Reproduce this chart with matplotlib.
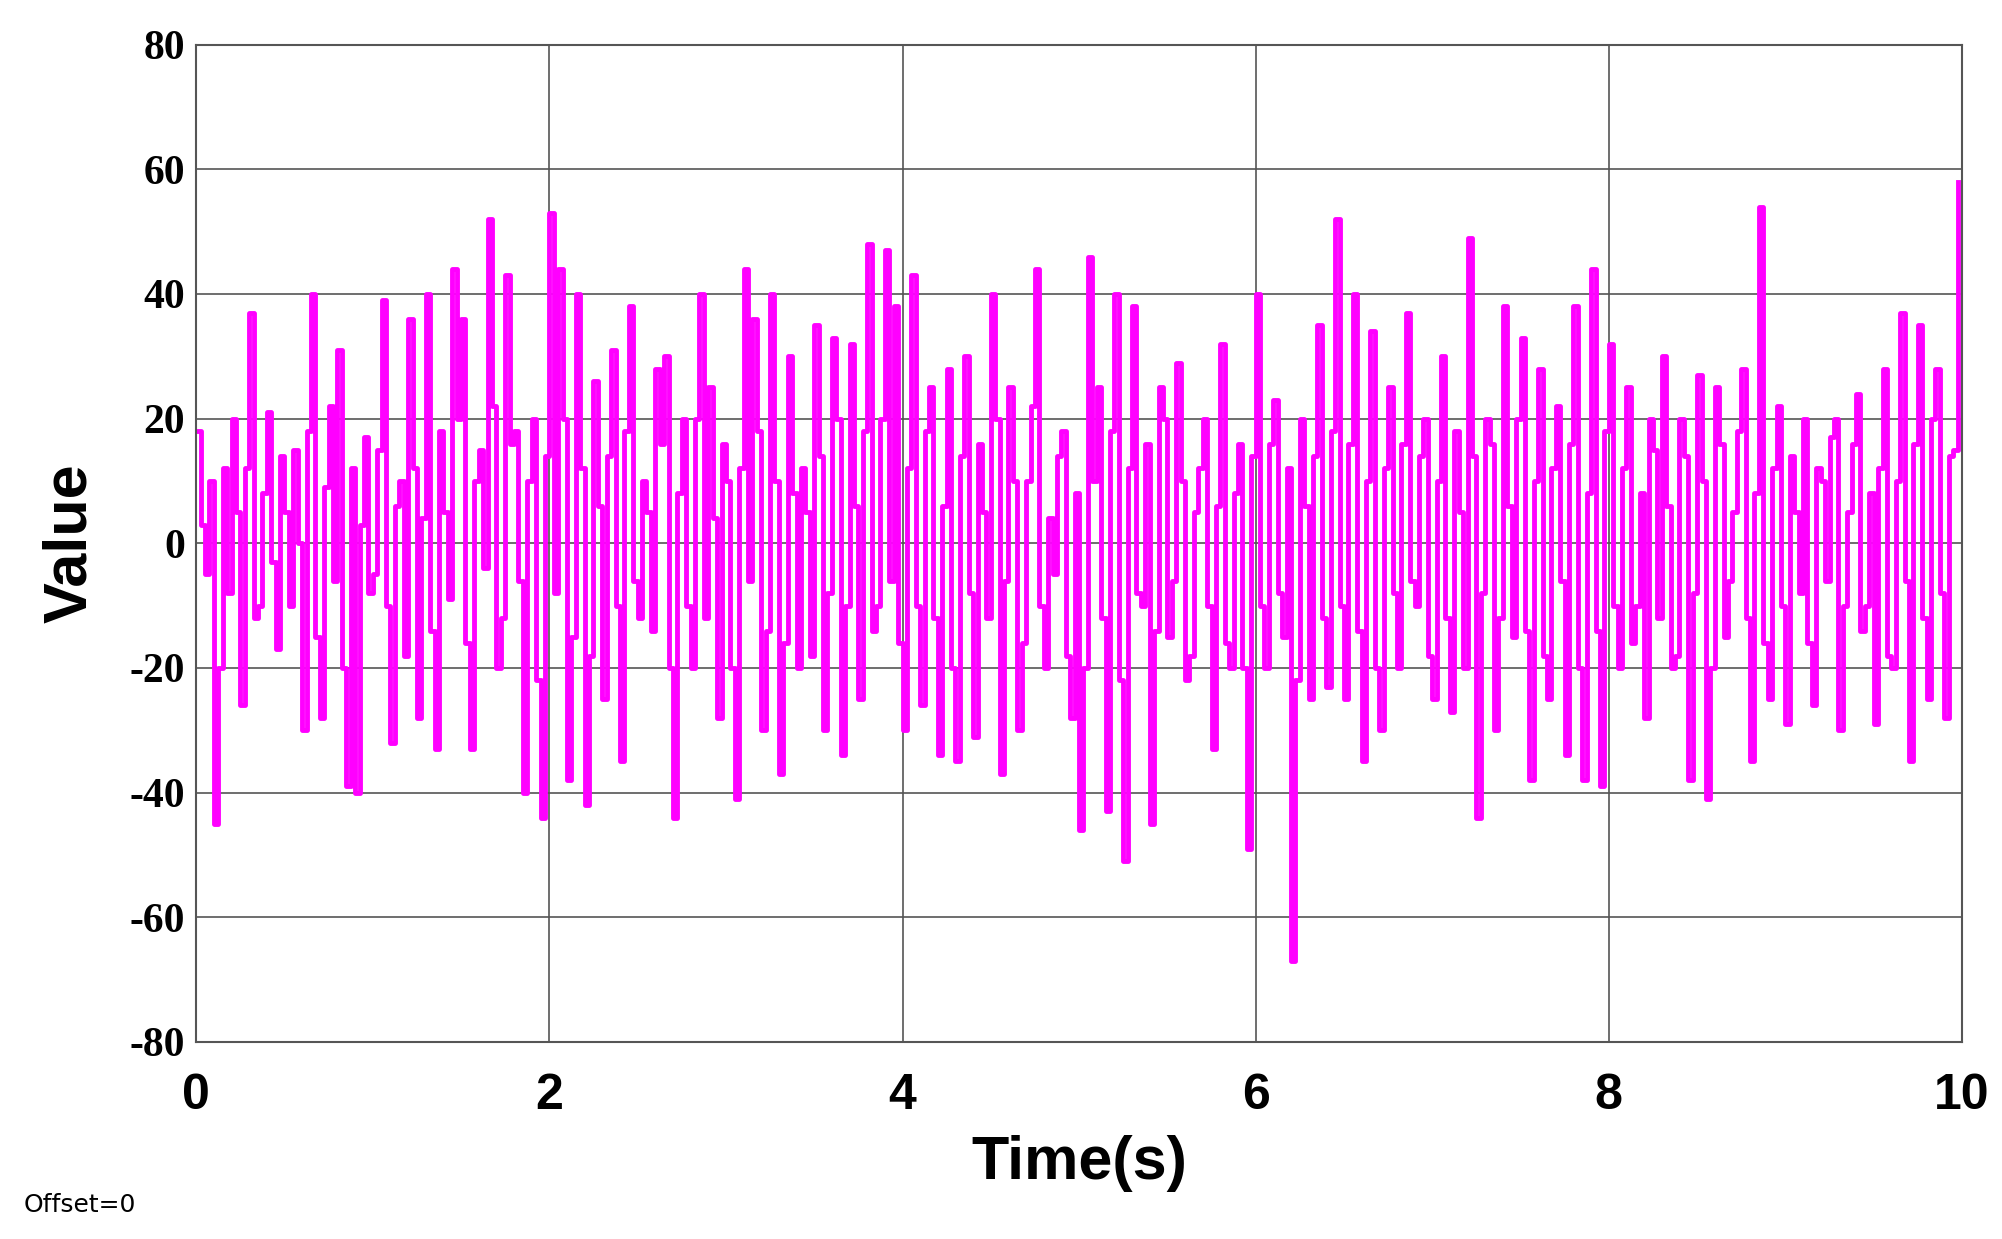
import matplotlib
matplotlib.use("Agg")
import matplotlib.pyplot as plt

values = [18,-5,-45,12,20,-26,37,-10,21,-17,5,15,-30,40,-28,22,31,-39,-40,17,
          -5,39,-32,10,36,-28,40,-33,5,44,36,-33,15,52,-20,43,18,-40,20,-44,
          53,44,-38,40,-42,26,-25,31,-35,38,-12,5,28,30,-44,20,-20,40,25,-28,
          10,-41,44,36,-30,40,-37,30,-20,5,35,-30,33,-34,32,-25,48,-10,47,38,
          -30,43,-26,25,-34,28,-35,30,-31,5,40,-37,25,-30,10,44,-20,-5,18,-28,
          -46,46,25,-43,40,-51,38,-10,-45,25,-15,29,-22,5,20,-33,32,-20,16,-49,
          40,-20,23,-15,-67,20,-25,35,-23,52,-25,40,-35,34,-30,25,-20,37,-10,20,
          -25,30,-27,5,49,-44,20,-30,38,-15,33,-38,28,-25,22,-34,38,-38,44,-39,
          32,-20,25,-10,-28,15,30,-20,20,-38,27,-41,25,-15,5,28,-35,54,-25,22,
          -29,5,20,-26,10,17,-30,5,24,-10,-29,28,-20,37,-35,35,-25,28,-28,15,58]
between = [3,10,-20,-8,5,12,-12,8,-3,14,-10,0,18,-15,9,-6,-20,12,3,-8,
           15,-10,6,-18,12,4,-14,18,-9,20,-16,10,-4,22,-12,16,-6,10,-22,14,
           -8,20,-15,12,-18,6,14,-10,18,-6,10,-14,16,-20,8,-10,20,-12,4,16,
           -20,12,-6,18,-14,10,-16,8,12,-18,14,-8,20,-10,6,18,-14,20,-6,-16,
           12,-10,18,-12,6,-20,14,-8,16,-12,20,-6,10,-16,22,-10,4,14,-18,8,
           -20,10,-12,18,-22,12,-8,16,-14,20,-6,10,-18,12,-10,6,-16,8,-20,14,
           -10,16,-8,12,-22,6,14,-12,18,-10,16,-14,10,-20,12,-8,16,-6,14,-18,
           10,-12,18,-20,14,-8,16,-12,6,20,-14,10,-18,12,-6,16,-20,8,-14,18,
           -10,12,-16,8,20,-12,6,-18,14,-8,10,-20,16,-6,18,-12,8,-16,12,-10,
           14,-8,-16,12,-6,20,-10,16,-14,8,12,-18,10,-6,16,-12,20,-8,14]
series = []
for i, v in enumerate(values):
    series.append(v)
    if i < len(between):
        series.append(between[i])
times = [i * 0.025 for i in range(len(series))]
xticks = [0, 2, 4, 6, 8, 10]
yticks = [-80, -60, -40, -20, 0, 20, 40, 60, 80]

fig = plt.figure(figsize=(20.02, 12.39), dpi=100)
ax = fig.add_axes([0.098, 0.159, 0.882, 0.805])
ax.plot(times, series, color="#ff00ff", lw=3.5, drawstyle="steps-post")
ax.set_xlim(0, 10)
ax.set_ylim(-80, 80)
ax.set_xticks(xticks)
ax.set_yticks(yticks)
ax.set_xticklabels([str(t) for t in xticks], fontsize=36, fontweight="bold", family="Liberation Sans")
ax.set_yticklabels([str(t) for t in yticks], fontsize=30, fontweight="bold", family="Liberation Serif")
ax.grid(True, color="#555555", lw=1.2)
ax.tick_params(length=0)
ax.tick_params(axis="x", pad=22)
ax.tick_params(axis="y", pad=8)
for s in ax.spines.values():
    s.set_color("#555555"); s.set_linewidth(1.5)
ax.set_xlabel("Time(s)", fontsize=44, fontweight="bold", family="Liberation Sans", labelpad=12)
ax.set_ylabel("Value", fontsize=44, fontweight="bold", family="Liberation Sans", labelpad=22)
fig.text(0.012, 0.022, "Offset=0", fontsize=18, family="DejaVu Sans")
fig.savefig("out.png", dpi=100)
